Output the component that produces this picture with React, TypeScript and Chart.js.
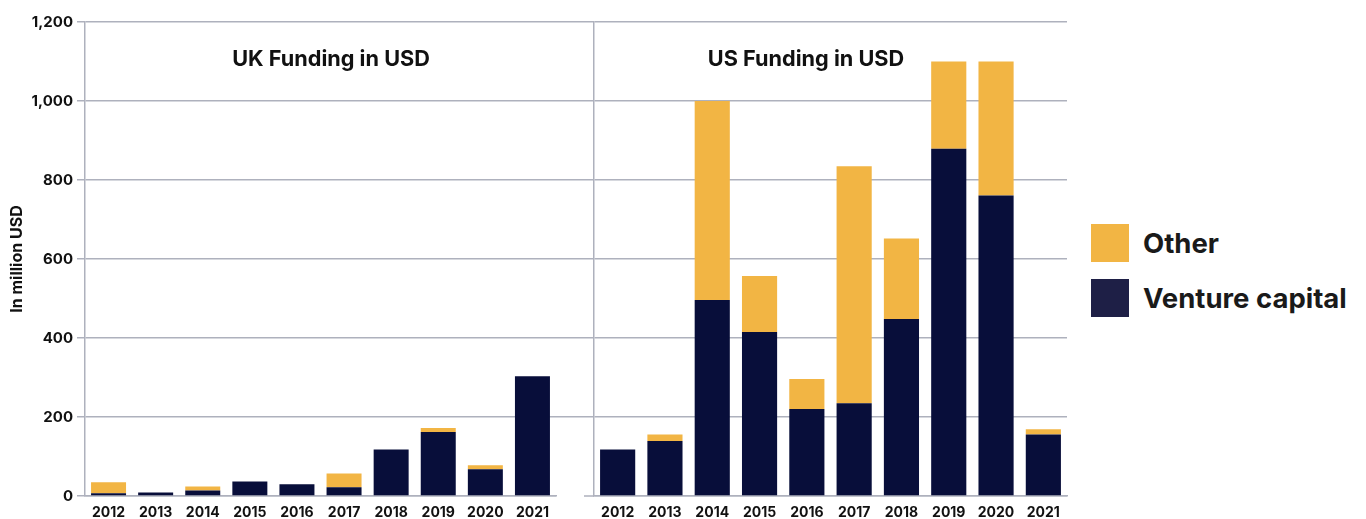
import React, { useEffect, useRef } from "react";
import { Chart, registerables } from "chart.js";

Chart.register(...registerables);

const years = ["2012", "2013", "2014", "2015", "2016", "2017", "2018", "2019", "2020", "2021"];
const ukVentureCapital = [7, 9, 14, 37, 30, 22, 118, 162, 68, 303];
const ukOther = [28, 0, 10, 0, 0, 35, 0, 10, 10, 0];
const usVentureCapital = [118, 139, 496, 415, 220, 235, 448, 879, 761, 156];
const usOther = [0, 17, 504, 142, 76, 600, 204, 221, 339, 13];
const yTicks = [0, 200, 400, 600, 800, 1000, 1200];

const NAVY = "#080e3a";
const ORANGE = "#f2b544";
const GRID = "#aeb1bd";
const TEXT = "#111111";
const FONT = "Inter";

const baseLinePlugin = {
  id: "baseLineExtend",
  afterDraw(chart: any) {
    const { ctx, chartArea } = chart;
    ctx.save();
    ctx.strokeStyle = GRID;
    ctx.lineWidth = 1.5;
    ctx.beginPath();
    ctx.moveTo(chartArea.left - 10, chartArea.bottom);
    ctx.lineTo(chartArea.left, chartArea.bottom);
    ctx.stroke();
    ctx.restore();
  },
};

function makeConfig(vc: number[], other: number[], left: boolean): any {
  return {
    type: "bar",
    data: {
      labels: years,
      datasets: [
        { label: "Venture capital", data: vc, backgroundColor: NAVY, borderWidth: 0, categoryPercentage: 1, barPercentage: 0.743 },
        { label: "Other", data: other, backgroundColor: ORANGE, borderWidth: 0, categoryPercentage: 1, barPercentage: 0.743 },
      ],
    },
    plugins: left ? [] : [baseLinePlugin],
    options: {
      responsive: false,
      animation: false,
      devicePixelRatio: 1,
      layout: { padding: { left: 0, right: left ? 44 : 4, top: 22, bottom: 0 } },
      plugins: { legend: { display: false }, tooltip: { enabled: false }, title: { display: false } },
      scales: {
        x: {
          stacked: true,
          grid: { display: true, drawOnChartArea: false, drawTicks: false },
          border: { display: true, color: GRID, width: 1.5 },
          ticks: { color: TEXT, font: { family: FONT, weight: "bold", size: 14 }, padding: 8, maxRotation: 0 },
          afterFit: (s: any) => { s.height = 23; },
        },
        y: {
          stacked: true,
          min: 0,
          max: 1200,
          afterBuildTicks: (s: any) => { s.ticks = yTicks.map((v) => ({ value: v })); },
          grid: {
            color: GRID,
            lineWidth: 1.5,
            drawTicks: true,
            tickLength: left ? 8 : 38,
            tickColor: (ctx: any) => (!left && ctx.tick && ctx.tick.value === 0 ? "rgba(0,0,0,0)" : GRID),
            tickWidth: 1.5,
          },
          border: { display: true, color: GRID, width: 1.5 },
          ticks: {
            display: left,
            color: TEXT,
            padding: 4,
            font: { family: FONT, weight: "bold", size: 15 },
            callback: (v: any) => Number(v).toLocaleString("en-US"),
          },
          title: {
            display: left,
            text: "In million USD",
            color: TEXT,
            font: { family: FONT, weight: "bold", size: 16 },
            padding: { top: 8, bottom: 0 },
          },
          afterFit: (s: any) => { s.width = left ? 85 : 43; },
        },
      },
    },
  };
}

export default function App() {
  const leftRef = useRef<HTMLCanvasElement>(null);
  const rightRef = useRef<HTMLCanvasElement>(null);

  useEffect(() => {
    const a = new Chart(leftRef.current as HTMLCanvasElement, makeConfig(ukVentureCapital, ukOther, true));
    const b = new Chart(rightRef.current as HTMLCanvasElement, makeConfig(usVentureCapital, usOther, false));
    return () => { a.destroy(); b.destroy(); };
  }, []);

  const titleStyle: React.CSSProperties = {
    position: "absolute",
    top: 44,
    fontFamily: FONT,
    fontWeight: 700,
    fontSize: 21.7,
    lineHeight: "28px",
    color: TEXT,
    transform: "translateX(-50%)",
    whiteSpace: "nowrap",
  };
  const legendText: React.CSSProperties = {
    position: "absolute",
    left: 1143,
    fontFamily: FONT,
    fontWeight: 700,
    fontSize: 27.5,
    lineHeight: "38px",
    color: "#1a1a1a",
    whiteSpace: "nowrap",
  };

  return (
    <div style={{ position: "absolute", left: 0, top: 0, width: 1366, height: 519, background: "#fff", overflow: "hidden" }}>
      <canvas ref={leftRef} width={600} height={519} style={{ position: "absolute", left: 0, top: 0 }} />
      <canvas ref={rightRef} width={520} height={519} style={{ position: "absolute", left: 551, top: 0 }} />
      <div style={{ ...titleStyle, left: 331 }}>UK Funding in USD</div>
      <div style={{ ...titleStyle, left: 806 }}>US Funding in USD</div>
      <div style={{ position: "absolute", left: 1091, top: 224, width: 38, height: 38, background: ORANGE }} />
      <div style={{ ...legendText, top: 224 }}>Other</div>
      <div style={{ position: "absolute", left: 1091, top: 279, width: 38, height: 38, background: "#1e1f46" }} />
      <div style={{ ...legendText, top: 279 }}>Venture capital</div>
    </div>
  );
}
